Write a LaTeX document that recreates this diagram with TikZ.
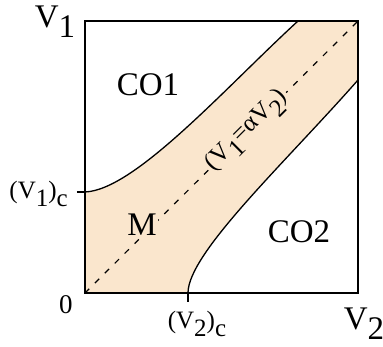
\documentclass[tikz,border=0pt]{standalone}
\usepackage{fontspec}
\setmainfont{Liberation Serif}
\definecolor{peach}{HTML}{FAE6CD}
\newcommand{\lo}[1]{\raisebox{-0.3em}{#1}}

\begin{document}
\begin{tikzpicture}[x=1pt,y=1pt,
    big/.style={font=\fontsize{33}{38}\selectfont,inner sep=0pt},
    small/.style={font=\fontsize{25}{29}\selectfont,inner sep=0pt},
    edge/.style={line width=1.3pt},
    frame/.style={line width=2pt,line join=miter},
    diag/.style={line width=1.2pt,dash pattern=on 6pt off 8pt}]
  \useasboundingbox (-85,-54) rectangle (298,293);
  \coordinate (o) at (0,0);
  \coordinate (tr) at (273,272);
  \coordinate (v1c) at (0,101);
  \coordinate (v2c) at (103,0);
  \coordinate (up) at (213,272);
  \coordinate (dn) at (273,213);
  \coordinate (t1) at (-8,101);
  \coordinate (t2) at (103,-9);
  % mixed band
  \fill[peach] (o) -- (v1c) .. controls (50,103) and (140,205) .. (up)
    -- (tr) -- (dn) .. controls (200,130) and (103,40) .. (v2c) -- cycle;
  \draw[edge] (v1c) .. controls (50,103) and (140,205) .. (up);
  \draw[edge] (v2c) .. controls (103,40) and (200,130) .. (dn);
  \draw[diag] (o) -- node[pos=0.595,sloped,small,fill=peach,inner sep=2pt]
    {(V\raisebox{-0.35em}{1}=αV\raisebox{-0.35em}{2})} (tr);
  \draw[frame] (o) rectangle (tr);
  \draw[edge] (t1) -- (v1c);
  \draw[edge] (t2) -- (v2c);
  % labels
  \node[big] (y) at (-30,271) {V\lo{1}};
  \node[big] (x) at (279,-31) {V\lo{2}};
  \node[big,font=\fontsize{27}{31}\selectfont] (z) at (-19,-12) {0};
  \node[small,anchor=east] (yc) at (-17,99) {(V\lo{1})\lo{c}};
  \node[small,anchor=north] (xc) at (112,-18) {(V\lo{2})\lo{c}};
  \node[big] (co1) at (63,208) {CO1};
  \node[big,fill=peach,inner sep=1pt] (m) at (57,68) {M};
  \node[big] (co2) at (214,61) {CO2};
\end{tikzpicture}
\end{document}
